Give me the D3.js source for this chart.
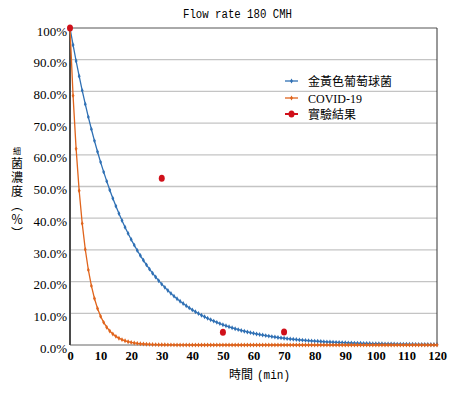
<!DOCTYPE html>
<html>
<head>
<meta charset="utf-8">
<script src="https://cdn.jsdelivr.net/npm/d3@7"></script>
<style>
  body { margin: 0; background: #fff; }
  svg { display: block; }
</style>
</head>
<body>
<div id="content"><svg width="462" height="395"></svg></div>
<script>

let minutes = d3.range(0, 121);

let staph = [
  100, 94.65, 89.59, 84.79, 80.25, 75.96, 71.89, 68.05, 64.40, 60.96,
  57.69, 54.61, 51.69, 48.92, 46.30, 43.82, 41.48, 39.26, 37.16, 35.17,
  33.29, 31.51, 29.82, 28.22, 26.71, 25.28, 23.93, 22.65, 21.44, 20.29,
  19.20, 18.18, 17.20, 16.28, 15.41, 14.59, 13.81, 13.07, 12.37, 11.71,
  11.08, 10.49, 9.93, 9.39, 8.89, 8.42, 7.96, 7.54, 7.14, 6.75,
  6.39, 6.05, 5.73, 5.42, 5.13, 4.86, 4.60, 4.35, 4.12, 3.90,
  3.69, 3.49, 3.30, 3.13, 2.96, 2.80, 2.65, 2.51, 2.37, 2.25,
  2.13, 2.01, 1.91, 1.80, 1.71, 1.61, 1.53, 1.45, 1.37, 1.30,
  1.23, 1.16, 1.10, 1.04, 0.98, 0.93, 0.88, 0.83, 0.79, 0.75,
  0.71, 0.67, 0.63, 0.60, 0.57, 0.54, 0.51, 0.48, 0.46, 0.43,
  0.41, 0.39, 0.37, 0.35, 0.33, 0.31, 0.29, 0.28, 0.26, 0.25,
  0.24, 0.22, 0.21, 0.20, 0.19, 0.18, 0.17, 0.16, 0.15, 0.14,
  0.14
];

let covid = [
  100, 78.66, 61.88, 48.68, 38.29, 30.12, 23.69, 18.64, 14.66, 11.53,
  9.07, 7.14, 5.61, 4.42, 3.47, 2.73, 2.15, 1.69, 1.33, 1.05,
  0.82, 0.65, 0.51, 0.40, 0.32, 0.25, 0.20, 0.15, 0.12, 0.10,
  0.08, 0.06, 0.05, 0.04, 0.03, 0.02, 0.02, 0.01, 0.01, 0.01,
  0, 0, 0, 0, 0, 0, 0, 0, 0, 0,
  0, 0, 0, 0, 0, 0, 0, 0, 0, 0,
  0, 0, 0, 0, 0, 0, 0, 0, 0, 0,
  0, 0, 0, 0, 0, 0, 0, 0, 0, 0,
  0, 0, 0, 0, 0, 0, 0, 0, 0, 0,
  0, 0, 0, 0, 0, 0, 0, 0, 0, 0,
  0, 0, 0, 0, 0, 0, 0, 0, 0, 0,
  0, 0, 0, 0, 0, 0, 0, 0, 0, 0,
  0
];

let expTime = [0, 30, 50, 70];
let expValue = [100, 52.6, 4.0, 4.1];

let xTicks = [0, 10, 20, 30, 40, 50, 60, 70, 80, 90, 100, 110, 120];
let yTicks = [0, 10, 20, 30, 40, 50, 60, 70, 80, 90, 100];
let yTickLabels = ['0.0%', '10.0%', '20.0%', '30.0%', '40.0%', '50.0%', '60.0%', '70.0%', '80.0%', '90.0%', '100%'];

let seriesNames = ['金黃色葡萄球菌', 'COVID-19', '實驗結果'];
let blue = '#2f70b4';
let orange = '#e0641c';
let red = '#d0101a';

let serif = '"Liberation Serif", "Times New Roman", serif';
let mono = '"Liberation Mono", monospace';
let cjk = '"Noto Sans CJK TC", sans-serif';

let svg = d3.select('#content svg');

let x = d3.scaleLinear().domain([0, 120]).range([70, 437]);
let y = d3.scaleLinear().domain([0, 100]).range([345, 28]);

// gridlines
svg.append('g')
  .selectAll('line')
  .data(yTicks.slice(1, -1))
  .enter()
  .append('line')
  .attr('x1', x(0)).attr('x2', x(120))
  .attr('y1', d => y(d)).attr('y2', d => y(d))
  .attr('stroke', '#c4c4c4')
  .attr('stroke-width', 1.3);

// frame
svg.append('line')
  .attr('x1', x(0)).attr('x2', x(120)).attr('y1', y(100)).attr('y2', y(100))
  .attr('stroke', '#555').attr('stroke-width', 1);
svg.append('line')
  .attr('x1', x(120)).attr('x2', x(120)).attr('y1', y(100)).attr('y2', y(0))
  .attr('stroke', '#333').attr('stroke-width', 1);
svg.append('line')
  .attr('x1', x(0)).attr('x2', x(120)).attr('y1', y(0)).attr('y2', y(0))
  .attr('stroke', '#666').attr('stroke-width', 1);

// axes labels
let yAxis = svg.append('g')
  .attr('transform', 'translate(' + x(0) + ',3)')
  .call(d3.axisLeft(y).tickValues(yTicks).tickSize(0).tickPadding(3)
    .tickFormat((d, i) => yTickLabels[i]));
yAxis.select('.domain').remove();
yAxis.selectAll('text')
  .style('font-family', serif)
  .style('font-size', '13px')
  .attr('fill', '#000');

let xAxis = svg.append('g')
  .attr('transform', 'translate(0,' + y(0) + ')')
  .call(d3.axisBottom(x).tickValues(xTicks).tickSize(0).tickPadding(6));
xAxis.select('.domain').remove();
xAxis.selectAll('text')
  .style('font-family', serif)
  .style('font-size', '12.5px')
  .style('font-weight', 'bold')
  .attr('fill', '#000');

// left axis
svg.append('line')
  .attr('x1', x(0)).attr('x2', x(0)).attr('y1', y(100)).attr('y2', y(0))
  .attr('stroke', '#4a4a4a').attr('stroke-width', 2);

// series
let line = d3.line()
  .x((d, i) => x(minutes[i]))
  .y(d => y(d));

let diamond = d3.symbol().type(d3.symbolDiamond).size(7);

function drawSeries(values, color) {
  svg.append('path')
    .attr('d', line(values))
    .attr('fill', 'none')
    .attr('stroke', color)
    .attr('stroke-width', 1.3);
  svg.append('g')
    .selectAll('path')
    .data(values)
    .enter()
    .append('path')
    .attr('d', diamond)
    .attr('transform', (d, i) => 'translate(' + x(minutes[i]) + ',' + y(d) + ')')
    .attr('fill', color);
}

drawSeries(staph, blue);
drawSeries(covid, orange);

svg.append('g')
  .selectAll('ellipse')
  .data(expValue)
  .enter()
  .append('ellipse')
  .attr('cx', (d, i) => x(expTime[i]))
  .attr('cy', d => y(d))
  .attr('rx', 3)
  .attr('ry', 3.5)
  .attr('fill', red);

// legend
let legend = svg.append('g');
let legendColors = [blue, orange, red];
let legendY = [81, 98, 114];
seriesNames.forEach(function (name, i) {
  legend.append('line')
    .attr('x1', 285).attr('x2', 298)
    .attr('y1', legendY[i]).attr('y2', legendY[i])
    .attr('stroke', legendColors[i])
    .attr('stroke-width', i == 2 ? 2 : 1.3);
  if (i == 2) {
    legend.append('ellipse')
      .attr('cx', 291.5).attr('cy', legendY[i]).attr('rx', 3).attr('ry', 3.5)
      .attr('fill', red);
  } else {
    legend.append('path')
      .attr('d', diamond)
      .attr('transform', 'translate(291.5,' + legendY[i] + ')')
      .attr('fill', legendColors[i]);
  }
  legend.append('text')
    .attr('x', 308)
    .attr('y', legendY[i] + 4.5)
    .style('font-family', i == 1 ? serif : cjk)
    .style('font-size', '12px')
    .text(name);
});

// title
svg.append('text')
  .attr('x', 183)
  .attr('y', 18)
  .style('font-family', mono)
  .style('font-size', '12.5px')
  .attr('textLength', 109)
  .attr('lengthAdjust', 'spacingAndGlyphs')
  .text('Flow rate 180 CMH');

// x title
svg.append('text')
  .attr('x', 229)
  .attr('y', 379)
  .style('font-family', cjk)
  .style('font-size', '12px')
  .text('時間');
svg.append('text')
  .attr('x', 257)
  .attr('y', 379)
  .style('font-family', mono)
  .style('font-size', '12.5px')
  .attr('textLength', 33)
  .attr('lengthAdjust', 'spacingAndGlyphs')
  .text('(min)');

// y title, vertical
let yTitle = svg.append('text')
  .attr('x', 17)
  .attr('y', 147)
  .style('writing-mode', 'vertical-rl')
  .style('text-orientation', 'upright')
  .style('font-family', cjk)
  .style('font-size', '12px')
  .style('letter-spacing', '2px');
yTitle.append('tspan').style('font-size', '8px').text('細');
yTitle.append('tspan').text('菌濃度（％）');

</script>
</body>
</html>
